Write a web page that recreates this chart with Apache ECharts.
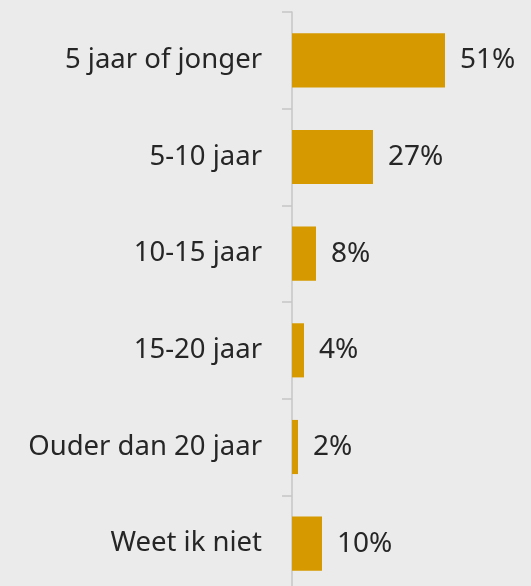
<!DOCTYPE html>
<html>
<head>
<meta charset="utf-8">
<script src="https://cdn.jsdelivr.net/npm/echarts@6/dist/echarts.min.js"></script>
<style>
  html, body { margin: 0; padding: 0; background: #ebebeb; }
  #chart { width: 531px; height: 586px; }
</style>
</head>
<body>
<div id="chart"></div>
<script>
const categories = ['5 jaar of jonger', '5-10 jaar', '10-15 jaar', '15-20 jaar', 'Ouder dan 20 jaar', 'Weet ik niet']
const values = [51, 27, 8, 4, 2, 10]

const chart = echarts.init(document.getElementById('chart'))

const font = 'Noto Sans'

chart.setOption({
  backgroundColor: '#ebebeb',
  grid: { left: 292, top: 12, width: 180, height: 580, outerBoundsMode: 'none' },
  xAxis: {
    type: 'value', min: 0, max: 60,
    show: false
  },
  yAxis: {
    type: 'category',
    data: categories,
    inverse: true,
    axisLine: { lineStyle: { color: '#c6c6c6', width: 1.5 } },
    axisTick: { show: true, length: 10, lineStyle: { color: '#c6c6c6', width: 1.5 } },
    axisLabel: { margin: 30, fontSize: 27.5, color: '#262626', fontFamily: font }
  },
  series: [{
    type: 'bar',
    data: values,
    barCategoryGap: '44%',
    itemStyle: { color: '#d69a00' },
    label: {
      show: true,
      position: 'right',
      distance: 15,
      formatter: '{c}%',
      fontSize: 28,
      color: '#262626',
      fontFamily: font
    }
  }]
})
</script>
</body>
</html>
